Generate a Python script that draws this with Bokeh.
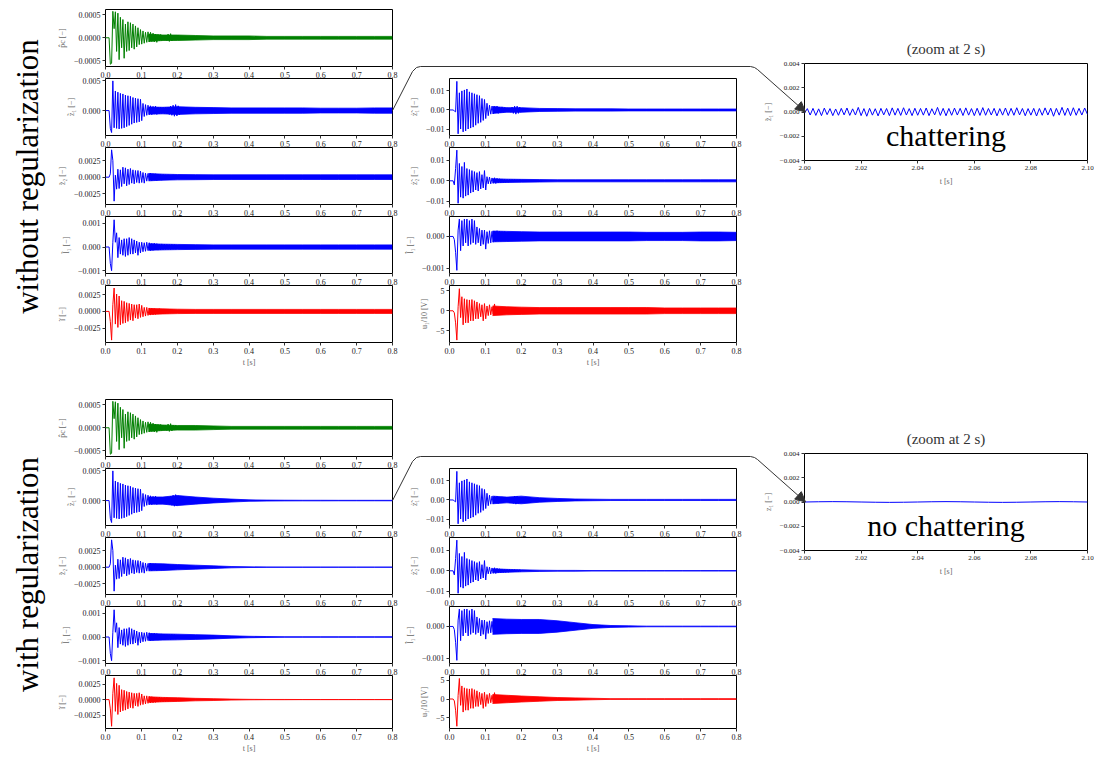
import numpy as np
from bokeh.plotting import figure
from bokeh.models import Range1d, FixedTicker, PrintfTickFormatter, Arrow, NormalHead, Label
from bokeh.embed import file_html
from bokeh.resources import INLINE
from bokeh.core.properties import value

W, H = 1086, 747

# ------------------------------------------------------------------ data
# transient extrema, sampled every T_STEP seconds starting at T_START
T_START, T_STEP = 0.010, 0.0035
# left column (units: 1e-5)
pc_peaks = [0, -58, -56, 58, 20, 57, -30, 54, -48, 45, -22, 40, -45, 30, -30, 35, -28, 33, -22, 30,
            -25, 26, -20, 22, -15, 18, -14, 15, -12, 12, -10, 13, -9, 12, -8, 10, -9, 8, -10, 7,
            -6, 7, -6, 6, -5, 6, -6, 8, -8, 9, -7, 6, -5, 5, -4]
z1_peaks = [0, -300, -370, 500, -290, 330, -300, 310, -310, 290, -300, 280, -290, 260, -270, 250, -250, 240,
            -230, 220, -210, 210, -200, 200, -190, 190, -170, 120, -100, 100, -80, 90, -70, 80, -70, 70,
            -60, 75, -65, 60, -55, 60, -50, 55, -50, 55, -55, 60, -65, 75, -80, 90, -95, 100, -90, 80, -70, 60]
z2_peaks = [0, 50, 410, 250, -360, 30, -180, 120, -170, 110, -140, 150, -100, 140, -130, 120, -110, 130,
            -90, 110, -100, 100, -80, 100, -90, 90, -80, 70, -90, 60, -60, 55, -50, 60, -55, 50, -45, 50,
            -50, 45, -40, 40, -45, 40, -35, 35, -40, 35, -30, 30, -30, 35, -30, 30, -25]
l1_peaks = [0, -70, -100, 20, 115, 20, 60, -45, 40, -30, 30, -35, 35, -40, 35, -35, 40, -30, 35, -30,
            30, -25, 25, -35, 20, -25, 20, -20, 18, -18, 20, -15, 18, -15, 15, -14, 16, -12, 14, -13,
            12, -12, 13, -11, 12, -10, 11, -10, 10, -10, 11, -9, 10, -9, 9]
i_peaks = [0, -150, -430, 100, 350, -190, 260, -240, 230, -200, 160, -180, 150, -170, 130, -150, 120, -130,
           110, -140, 100, -100, 100, -110, 110, -90, 90, -80, 60, -70, 60, -60, 50, -55, 45, -50, 40, -45,
           35, -40, 40, -35, 30, -35, 30, -30, 30, -28, 25, -25, 25, -25, 22, -20, 20]
# middle column (dz: 1e-4, dl: 1e-5, u/10: 0.1 V)
dz1_peaks = [0, -5, -10, 150, -125, 90, -100, 100, -115, 105, -110, 110, -100, 95, -95, 90, -90, 85,
             -80, 80, -70, 75, -65, 60, -55, 55, -45, 35, -30, 25, -22, 20, -20, 18, -15, 20, -18, 15,
             -14, 16, -12, 12, -10, 11, -10, 10, -12, 15, -18, 20, -22, 20, -18, 15, -12, 10, -9]
dz2_peaks = [0, -20, 60, 150, -110, 85, -80, 70, -85, 90, -75, 60, -70, 55, -60, 50, -55, 45, -45, 40,
             -50, 45, -40, 30, -35, 50, -45, 20, -15, 18, -15, 14, -12, 15, -13, 12, -10, 10, -9, 9,
             -8, 8, -8, 7, -7, 7, -6, 6, -6, 6, -5, 5, -5, 5, -5]
dl1_peaks = [0, -10, -50, -107, 20, 55, -45, 50, -30, 55, -20, 55, -30, 50, -25, 55, -20, 50, -25, 30,
             -20, 25, -30, 20, -25, 20, -40, 15, -22, 18, -20, 16, -18, 17, -16, 18, -15, 16, -15, 15,
             -14, 15, -14, 14, -13, 14, -13, 14, -12, 13, -12, 13, -12, 12, -12]
u_peaks = [0, -5, -30, -73, 10, 55, -17, 35, -35, 30, -30, 28, -30, 27, -25, 28, -25, 25, -20, 22,
           -20, 18, -15, 15, -25, 18, -20, 12, -12, 15, -10, 10, -8, 17, -10, 9, -8, 8, -8, 8,
           -7, 7, -7, 7, -6, 7, -6, 6, -6, 6, -6, 6, -5, 5, -5]

# envelope (half-width) of the dense oscillation band after the transient
tail_t = [0.12, 0.16, 0.20, 0.25, 0.30, 0.35, 0.40, 0.45, 0.50, 0.55, 0.60, 0.65, 0.70, 0.75, 0.80]
tail_top = {
    "pc":  [8, 6, 6, 5, 4, 4, 4, 3, 3, 3, 3, 3, 3, 3, 3],
    "z1":  [60, 55, 65, 55, 50, 45, 45, 45, 45, 45, 40, 40, 40, 45, 45],
    "z2":  [55, 45, 40, 38, 35, 35, 35, 35, 35, 35, 35, 35, 35, 35, 35],
    "l1":  [14, 12, 11, 10, 9, 9, 9, 9, 9, 9, 9, 9, 9, 9, 9],
    "i":   [45, 38, 33, 30, 30, 30, 30, 30, 30, 30, 30, 30, 30, 30, 30],
    "dz1": [18, 12, 12, 8, 7, 6, 6, 6, 5, 5, 5, 5, 5, 5, 5],
    "dz2": [10, 8, 7, 6, 5, 5, 5, 5, 5, 5, 5, 5, 5, 5, 5],
    "dl1": [17, 16, 15, 14, 14, 14, 14, 14, 14, 13, 13, 13, 14, 14, 13],
    "u":   [12, 10, 9, 8, 8, 8, 8, 8, 8, 8, 7, 7, 7, 7, 7],
}
tail_bot = {
    "pc":  [8, 6, 5, 5, 4, 3, 3, 3, 3, 3, 3, 3, 3, 3, 3],
    "z1":  [60, 60, 85, 60, 40, 25, 12, 8, 6, 5, 5, 4, 4, 4, 4],
    "z2":  [55, 50, 40, 30, 20, 10, 5, 3, 2, 2, 2, 1, 1, 1, 1],
    "l1":  [15, 13, 12, 10, 8, 5, 3, 2, 1, 1, 1, 1, 1, 1, 1],
    "i":   [45, 35, 30, 20, 15, 8, 4, 2, 2, 1, 1, 1, 1, 1, 1],
    "dz1": [20, 15, 20, 12, 8, 5, 4, 3, 3, 3, 3, 3, 3, 3, 3],
    "dz2": [10, 7, 5, 3, 2, 2, 1, 1, 1, 1, 1, 1, 1, 1, 1],
    "dl1": [25, 23, 22, 22, 18, 12, 6, 3, 2, 1, 1, 1, 1, 1, 1],
    "u":   [12, 10, 8, 6, 4, 3, 2, 1, 1, 1, 1, 1, 1, 1, 1],
}
# zoom at 2 s (units 1e-5)
zoom_top = [-10, 28, -25, 30, -28, 26, -30, 32, -22, 28, -30, 25, -27, 30, -24, 33, -28, 26, -25, 38,
            -30, 28, -35, 30, -26, 27, -32, 30, -24, 29, -30, 34, -26, 30, -28, 35, -25, 28, -30, 31,
            -27, 29, -26, 33, -30, 27, -24, 38, -28, 30, -31, 29, -27, 32, -25, 30, -29, 34, -26, 28,
            -30, 31, -28, 36, -27, 29, -25, 30, -32, 28, -26, 33, -29, 30, -27, 35, -24, 29, -31, 28,
            -26, 30, -33, 29, -27, 34, -25, 31, -35, 30, -26, 38, -28, 32, -30, 35, -27, 30, -25, 33, -20]
zoom_bot = [0, 2, 3, 2, 0, -2, -3, -2, 0, 2, 3, 2, 0, -2, -3, -2, 0, 2, 3, 2, 0]

x_ticks = [0.0, 0.1, 0.2, 0.3, 0.4, 0.5, 0.6, 0.7, 0.8]
zoom_x_ticks = [2.00, 2.02, 2.04, 2.06, 2.08, 2.10]

# panel definitions: key, peaks, y-range, y ticks, tick labels, y label, colour
left_panels = [
    ("pc", pc_peaks, (-63, 62), [-50, 0, 50], ["\u22120.0005", "0.0000", "0.0005"], "p\u0302c [\u2212]", "#008000"),
    ("z1", z1_peaks, (-420, 540), [0, 500], ["0.000", "0.005"], "z\u0303\u2081 [\u2212]", "#0000ff"),
    ("z2", z2_peaks, (-410, 445), [-250, 0, 250], ["\u22120.0025", "0.0000", "0.0025"], "z\u0303\u2082 [\u2212]", "#0000ff"),
    ("l1", l1_peaks, (-112, 129), [-100, 0, 100], ["\u22120.001", "0.000", "0.001"], "l\u0303\u2081 [\u2212]", "#0000ff"),
    ("i", i_peaks, (-466, 388), [-250, 0, 250], ["\u22120.0025", "0.0000", "0.0025"], "\u0129 [\u2212]", "#ff0000"),
]
mid_panels = [
    ("dz1", dz1_peaks, (-134, 165), [-100, 0, 100], ["\u22120.01", "0.00", "0.01"], "z\u0307\u0303\u2081 [\u2212]", "#0000ff"),
    ("dz2", dz2_peaks, (-116, 163), [-100, 0, 100], ["\u22120.01", "0.00", "0.01"], "z\u0307\u0303\u2082 [\u2212]", "#0000ff"),
    ("dl1", dl1_peaks, (-117, 63), [-100, 0], ["\u22120.001", "0.000"], "l\u0307\u0303\u2081 [\u2212]", "#0000ff"),
    ("u", u_peaks, (-79, 63), [-50, 0, 50], ["\u22125", "0", "5"], "u\u2081/10 [V]", "#ff0000"),
]
zoom_yticks = [-400, -200, 0, 200, 400]
zoom_ylabels = ["\u22120.004", "\u22120.002", "0.000", "0.002", "0.004"]

# ------------------------------------------------------------------ layout (page px)
LEFT_X, MID_X, ZOOM_X = 97, 441, 796
COL_W, ZOOM_W = 287, 283
ROW_TOPS = [1, 70, 139, 208, 277]
ROW_H = 57
GROUPS = [0, 390]
ZOOM_TOP, ZOOM_H = 55, 97
SERIF = "Liberation Serif"
ABS = {"position": "absolute", "left": "8px", "top": "8px"}


def make_fig(fl, ft, fw, fh, xr, yr, title=None):
    p = figure(width=W, height=H, output_backend="svg", toolbar_location=None,
               x_range=Range1d(*xr), y_range=Range1d(*yr), title=title,
               min_border_left=fl, min_border_top=ft,
               min_border_right=W - fl - fw, min_border_bottom=H - ft - fh,
               styles=ABS)
    p.border_fill_alpha = 0
    p.background_fill_color = "white"
    p.outline_line_color = "black"
    p.outline_line_width = 1
    p.outline_line_alpha = 1
    p.grid.visible = False
    for ax in (p.xaxis[0], p.yaxis[0]):
        ax.axis_line_color = None
        ax.major_tick_in = 0
        ax.major_tick_out = 3
        ax.minor_tick_in = 0
        ax.minor_tick_out = 0
        ax.major_tick_line_color = "#333333"
        ax.major_label_text_font = SERIF
        ax.major_label_text_font_size = "8px"
        ax.major_label_text_color = "#222222"
        ax.major_label_standoff = 2
        ax.axis_label_text_font = SERIF
        ax.axis_label_text_font_size = "8px"
        ax.axis_label_text_font_style = "normal"
        ax.axis_label_text_color = "#666666"
        ax.axis_label_standoff = 4
    return p


def add_signal(p, peaks, tail, color):
    t = np.concatenate([[0.0], T_START + T_STEP * np.arange(len(peaks))])
    y = np.concatenate([[0.0], np.array(peaks, float)])
    up = np.array(tail, float)
    p.varea(x=tail_t, y1=-up, y2=up, fill_color=color, fill_alpha=1)
    p.line(tail_t, up, line_color=color, line_width=0.8)
    p.line(tail_t, -up, line_color=color, line_width=0.8)
    p.line(t, y, line_color=color, line_width=1)


figs = []
conn = []
for gi, g in enumerate(GROUPS):
    tails = tail_top if gi == 0 else tail_bot
    for col_x, panels, rows in ((LEFT_X, left_panels, [0, 1, 2, 3, 4]), (MID_X, mid_panels, [1, 2, 3, 4])):
        for (key, peaks, yr, yt, yl, ylab, color), r in zip(panels, rows):
            ft = g + ROW_TOPS[r]
            p = make_fig(col_x, ft, COL_W, ROW_H, (0, 0.8), yr)
            p.xaxis.ticker = FixedTicker(ticks=x_ticks)
            p.xaxis.formatter = PrintfTickFormatter(format="%.1f")
            p.yaxis.ticker = FixedTicker(ticks=yt)
            p.yaxis.major_label_overrides = dict(zip(yt, yl))
            p.yaxis.axis_label = ylab
            if r == 4:
                p.xaxis.axis_label = "t [s]"
                p.xaxis.axis_label_standoff = 1
            add_signal(p, peaks, tails[key], color)
            figs.append(p)
            if col_x == LEFT_X and r == 1:
                zero_y = ft + ROW_H * yr[1] / (yr[1] - yr[0])
                conn.append((LEFT_X + COL_W, zero_y))
    # zoom panel
    zt = g + ZOOM_TOP
    pz = make_fig(ZOOM_X, zt, ZOOM_W, ZOOM_H, (2.0, 2.1), (-400, 400), title="(zoom at 2 s)")
    pz.title.align = "center"
    pz.title.text_font = SERIF
    pz.title.text_font_size = "15px"
    pz.title.text_font_style = "normal"
    pz.title.text_color = "#333333"
    pz.title.standoff = 13
    pz.xaxis.ticker = FixedTicker(ticks=zoom_x_ticks)
    pz.xaxis.formatter = PrintfTickFormatter(format="%.2f")
    pz.xaxis.axis_label = "t [s]"
    pz.yaxis.ticker = FixedTicker(ticks=zoom_yticks)
    pz.yaxis.major_label_overrides = dict(zip(zoom_yticks, zoom_ylabels))
    pz.yaxis.major_label_text_font_size = "7px"
    pz.xaxis.major_label_text_font_size = "7px"
    zdata = zoom_top if gi == 0 else zoom_bot
    zt_t = np.linspace(2.0, 2.1, len(zdata))
    pz.line(zt_t, zdata, line_color="#0000ff", line_width=1)
    pz.yaxis.axis_label = "z\u0303\u2081 [\u2212]" if gi == 0 else "z\u2081 [\u2212]"
    pz.add_layout(Label(x=2.05, y=-190, text="chattering" if gi == 0 else "no chattering",
                        text_align="center", text_baseline="middle", text_font=SERIF,
                        text_font_size="30px", text_color="black"))
    figs.append(pz)
    conn[-1] = conn[-1] + (zt, ZOOM_X, zt + ZOOM_H / 2)

# overlay with connectors and group labels
ov = figure(width=W, height=H, output_backend="svg", toolbar_location=None,
            x_range=Range1d(0, W), y_range=Range1d(H, 0), title=None,
            x_axis_type=None, y_axis_type=None, min_border=0, styles=ABS)
ov.outline_line_color = None
ov.background_fill_alpha = 0
ov.border_fill_alpha = 0
ov.grid.visible = False
for (sx, sy, zt, zx, zy) in conn:
    cy = zt + 3
    xs = [sx, sx + 20, sx + 24, sx + 28, zx - 54, zx - 50, zx - 47]
    ys = [sy, cy + 5, cy + 1, cy, cy, cy + 1, cy + 3]
    ov.line(xs, ys, line_color="#333333", line_width=1)
    ov.add_layout(Arrow(end=NormalHead(size=10, fill_color="#333333", line_color="#333333"),
                        x_start=zx - 47, y_start=cy + 3, x_end=zx + 1, y_end=zy,
                        line_color="#333333", line_width=1))
ov.text(x=[19, 19], y=[168, 566], text=["without regularization", "with regularization"],
        angle=np.pi / 2, text_align="center", text_baseline="middle",
        text_font=value(SERIF), text_font_size="31px", text_color="black")
figs.append(ov)

open("out.html", "w").write(file_html(figs, INLINE))
